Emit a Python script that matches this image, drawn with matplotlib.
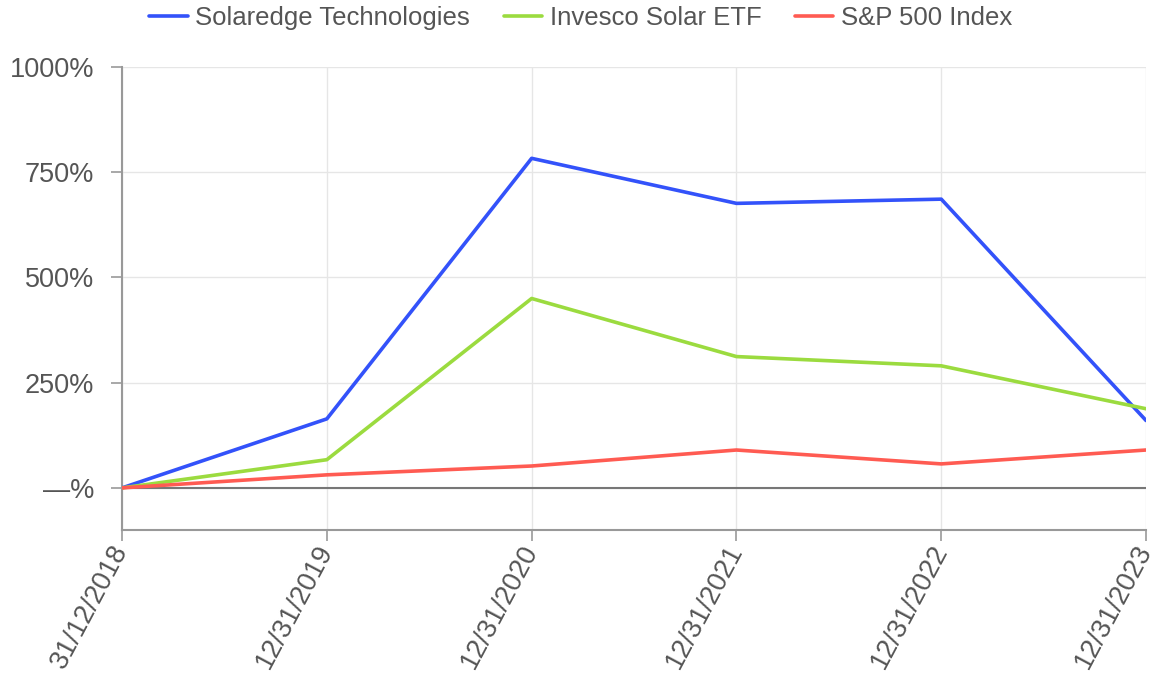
import numpy as np
import matplotlib.pyplot as plt

plt.rcParams['font.family'] = ['Liberation Sans', 'DejaVu Sans']

dates = ['31/12/2018', '12/31/2019', '12/31/2020', '12/31/2021', '12/31/2022', '12/31/2023']
solaredge = [0, 164, 783, 676, 686, 160]
invesco = [0, 67, 450, 312, 290, 188]
sp500 = [0, 31, 52, 90, 57, 90]

series_names = ['Solaredge Technologies', 'Invesco Solar ETF', 'S&P 500 Index']
colors = ['#3352FA', '#9BDB3F', '#FF5B52']

fig = plt.figure(figsize=(11.6, 6.76), dpi=100)
ax = fig.add_axes([0.1052, 0.216, 0.8828, 0.6849])

x = np.arange(len(dates))
for vals, name, c in zip([solaredge, invesco, sp500], series_names, colors):
    ax.plot(x, vals, color=c, lw=2.6, label=name, solid_capstyle='round', zorder=3)

ax.axhline(0, color='#777777', lw=1.5, zorder=2)

ax.set_xlim(0, len(dates) - 1)
ax.set_ylim(-100, 1000)
ax.set_yticks([0, 250, 500, 750, 1000])
ax.set_yticklabels(['\u2014%', '250%', '500%', '750%', '1000%'])
ax.set_xticks(x)
ax.set_xticklabels(dates, rotation=62, ha='right', va='center', rotation_mode='anchor')

ax.grid(True, color='#e6e6e6', lw=1)
ax.set_axisbelow(True)
for s in ['top', 'right']:
    ax.spines[s].set_visible(False)
for s in ['left', 'bottom']:
    ax.spines[s].set_color('#999999')
    ax.spines[s].set_linewidth(1.5)
ax.tick_params(axis='both', colors='#999999', labelcolor='#555555', labelsize=19.5,
               length=8, width=1.2)
ax.tick_params(axis='y', pad=12)
ax.tick_params(axis='x', pad=4)

ax.legend(loc='center', bbox_to_anchor=(0.448, 1.105), ncol=3, frameon=False,
          fontsize=18.5, handlelength=1.5, columnspacing=1.3, handletextpad=0.3,
          labelcolor='#555555')

fig.savefig('out.png', dpi=100, facecolor='white')
